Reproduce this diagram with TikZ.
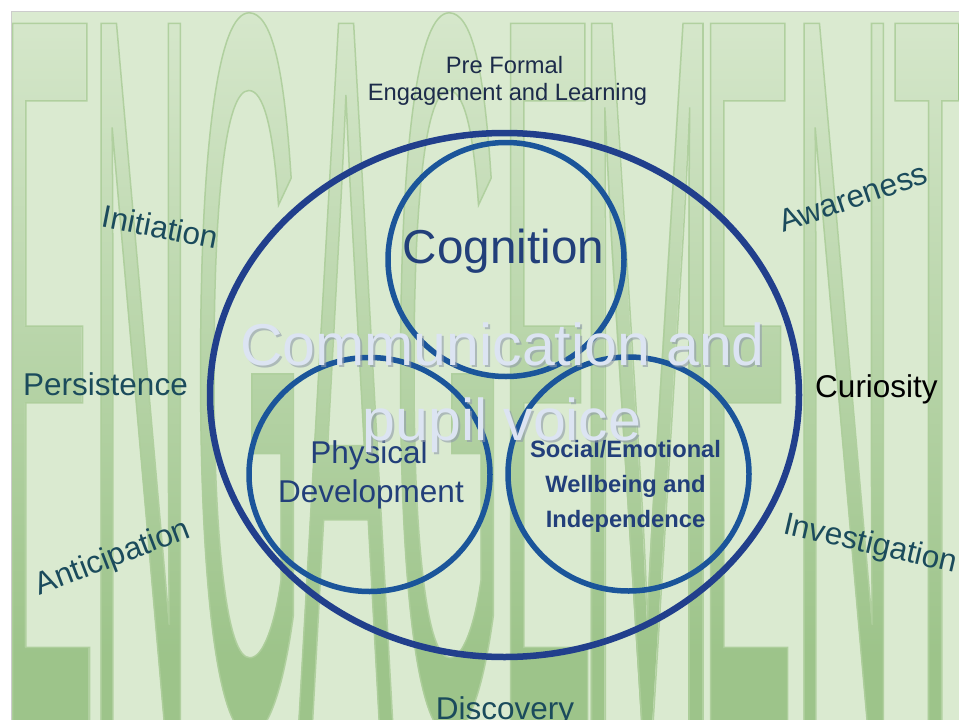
\documentclass[tikz,border=0pt]{standalone}
\usepackage{fontspec}
\setmainfont{Liberation Sans}
\newfontfamily\engfont{Liberation Sans}[FakeStretch=0.1393]
\newfontfamily\engfontM{Liberation Sans}[FakeStretch=0.1633]
\usetikzlibrary{fadings}
\definecolor{bgpanel}{HTML}{DAEAD0}
\definecolor{lettergreen}{HTML}{9DC48A}
\definecolor{letteredge}{HTML}{ADCE9B}
\definecolor{outerblue}{HTML}{213F8C}
\definecolor{innerblue}{HTML}{1B559A}
\definecolor{navytext}{HTML}{223F7A}
\definecolor{titletext}{HTML}{1C2B4A}
\definecolor{sideteal}{HTML}{1B4B5C}
\definecolor{palecomm}{HTML}{DCE4F2}
\definecolor{commshadow}{HTML}{8F9AAA}
\tikzfading[name=letterfade, top color=transparent!6, bottom color=transparent!100]
\newcommand{\outlinetext}[1]{\special{pdf:literal direct 1 Tr 1.5 w}#1\special{pdf:literal direct 0 Tr}}
\begin{document}
\begin{tikzpicture}[x=1pt,y=-1pt,
  letterbox/.style={anchor=base west, inner sep=0, text=lettergreen, font=\engfont\fontsize{1020}{1020}\selectfont},
  letterboxM/.style={letterbox, font=\engfontM\fontsize{1020}{1020}\selectfont},
  letterline/.style={anchor=base west, inner sep=0, text=letteredge, opacity=0.9, font=\engfont\fontsize{1020}{1020}\selectfont},
  letterlineM/.style={letterline, font=\engfontM\fontsize{1020}{1020}\selectfont},
  sideword/.style={font=\fontsize{31.5}{36}\selectfont, text=sideteal, inner sep=0, anchor=base},
  commtext/.style={font=\fontsize{59}{70}\selectfont, text=palecomm, inner sep=0, anchor=base},
  commshade/.style={font=\fontsize{59}{70}\selectfont, text=commshadow, opacity=0.6, inner sep=0, anchor=base},
  titleline/.style={font=\fontsize{23.7}{28}\selectfont, text=titletext, inner sep=0, anchor=base},
  physline/.style={font=\fontsize{31.5}{36}\selectfont, text=navytext, inner sep=0, anchor=base},
  socline/.style={font=\fontsize{23.7}{28}\selectfont\bfseries, text=navytext, inner sep=0, anchor=base},
  outerring/.style={draw=outerblue, line width=6.5pt},
  innerring/.style={draw=innerblue, line width=5.5pt}]
\useasboundingbox (0,0) rectangle (959,720);
\clip (0,0) rectangle (959,720);
\fill[white] (0,0) rectangle (959,720);
\fill[bgpanel] (11,11) rectangle (959,720);
\begin{scope}
\clip (11,11) rectangle (959,720);
% background word ENGAGEMENT (filled)
\node[letterbox] (L1) at (0.8,725) {E};
\node[letterbox] (L2) at (89.2,725) {N};
\node[letterbox] (L3) at (193.2,725) {G};
\node[letterbox] (L4) at (298.2,725) {A};
\node[letterbox] (L5) at (393.2,725) {G};
\node[letterbox] (L6) at (498.8,725) {E};
\node[letterboxM] (L7) at (577.7,725) {M};
\node[letterbox] (L8) at (698.8,725) {E};
\node[letterbox] (L9) at (792.2,725) {N};
\node[letterbox] (L10) at (891.7,725) {T};
\fill[bgpanel, path fading=letterfade] (11,11) rectangle (959,660);
% outlines of the letters
\node[letterline] (O1) at (0.8,725) {\outlinetext{E}};
\node[letterline] (O2) at (89.2,725) {\outlinetext{N}};
\node[letterline] (O3) at (193.2,725) {\outlinetext{G}};
\node[letterline] (O4) at (298.2,725) {\outlinetext{A}};
\node[letterline] (O5) at (393.2,725) {\outlinetext{G}};
\node[letterline] (O6) at (498.8,725) {\outlinetext{E}};
\node[letterlineM] (O7) at (577.7,725) {\outlinetext{M}};
\node[letterline] (O8) at (698.8,725) {\outlinetext{E}};
\node[letterline] (O9) at (792.2,725) {\outlinetext{N}};
\node[letterline] (O10) at (891.7,725) {\outlinetext{T}};
\end{scope}
\draw[black!20, line width=1pt] (11,720) -- (11,11) -- (959,11);
% rings
\draw[outerring] (504.5,395) ellipse [x radius=294.5, y radius=262];
\draw[innerring] (506,259.5) ellipse [x radius=118, y radius=117];
\draw[innerring] (369.5,474.5) ellipse [x radius=120.5, y radius=117];
\draw[innerring] (628.5,474) ellipse [x radius=120.5, y radius=117];
% top title
\node[titleline] (pre) at (504.5,73) {Pre Formal};
\node[titleline] (eng) at (507.5,100) {Engagement and Learning};
% circle labels
\node[font=\fontsize{47.6}{54}\selectfont, text=navytext, inner sep=0, anchor=base] (cog) at (503.5,263) {Cognition};
\node[physline] (phys1) at (369,463) {Physical};
\node[physline] (phys2) at (371,502) {Development};
\node[socline] (soc1) at (625.5,457) {Social/Emotional};
\node[socline] (soc2) at (625.5,492) {Wellbeing and};
\node[socline] (soc3) at (625.5,527) {Independence};
% communication text
\node[commshade] (comm1s) at (504.5,367) {Communication and};
\node[commshade] (comm2s) at (504,442) {pupil voice};
\node[commtext] (comm1) at (502.5,365) {Communication and};
\node[commtext] (comm2) at (502,440) {pupil voice};
% side words
\node[sideword] (pers) at (105.5,395) {Persistence};
\node[sideword, text=black] (cur) at (876.5,397) {Curiosity};
\node[sideword] (disc) at (505,719) {Discovery};
\node[sideword, rotate=-11] (init) at (158.5,238) {Initiation};
\node[sideword, rotate=19] (aware) at (856.5,207.5) {Awareness};
\node[sideword, rotate=21] (antic) at (116,566) {Anticipation};
\node[sideword, rotate=-13] (invest) at (868.5,553) {Investigation};
\end{tikzpicture}
\end{document}
